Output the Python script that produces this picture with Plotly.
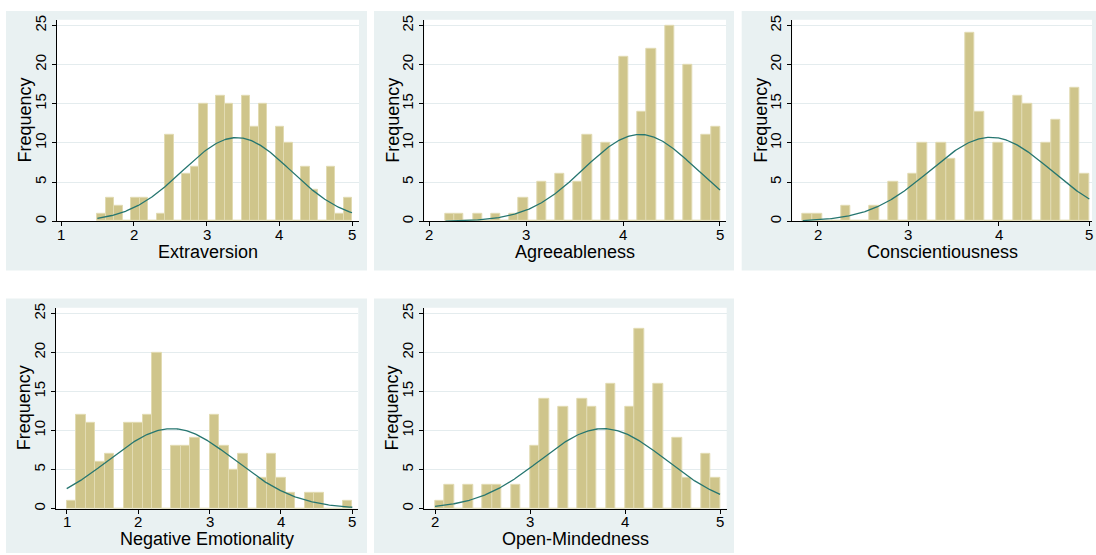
import numpy as np
import plotly.graph_objects as go

# Big Five domain scores: 30-bin histograms with fitted normal curves
traits = ["Extraversion", "Agreeableness", "Conscientiousness",
          "Negative Emotionality", "Open-Mindedness"]

bin_start = [1.5, 2.1667, 1.8333, 1.0, 2.0]
bin_end = [5.0, 5.0, 5.0, 5.0, 5.0]

extraversion_counts = [1, 3, 2, 0, 3, 3, 0, 1, 11, 0, 6, 7, 15, 0, 16,
                       15, 0, 16, 12, 15, 0, 12, 10, 0, 7, 4, 0, 7, 1, 3]
agreeableness_counts = [1, 1, 0, 1, 0, 1, 0, 1, 3, 0, 5, 0, 6, 0, 5,
                        11, 0, 10, 0, 21, 0, 14, 22, 0, 25, 0, 20, 0, 11, 12]
conscientiousness_counts = [1, 1, 0, 0, 2, 0, 0, 2, 0, 5, 0, 6, 10, 0, 10,
                            8, 0, 24, 14, 0, 10, 0, 16, 15, 0, 10, 13, 0, 17, 6]
negemotionality_counts = [1, 12, 11, 6, 7, 0, 11, 11, 12, 20, 0, 8, 8, 9, 0,
                          12, 8, 5, 7, 0, 4, 7, 4, 2, 0, 2, 2, 0, 0, 1]
openmindedness_counts = [1, 3, 0, 3, 0, 3, 3, 0, 3, 0, 8, 14, 0, 13, 0,
                         14, 13, 0, 16, 0, 13, 23, 0, 16, 0, 9, 4, 0, 7, 4]

counts = [extraversion_counts, agreeableness_counts, conscientiousness_counts,
          negemotionality_counts, openmindedness_counts]

# sample mean / sd used for the normal overlay
fit_mean = [3.415, 4.174, 3.91, 2.47, 3.77]
fit_sd = [0.741, 0.578, 0.668, 0.883, 0.662]

x_ticks = [[1, 2, 3, 4, 5], [2, 3, 4, 5], [2, 3, 4, 5], [1, 2, 3, 4, 5], [2, 3, 4, 5]]
y_ticks = [0, 5, 10, 15, 20, 25]

W, H = 1096, 555

# panel frames (px): left, top, right, bottom
frames = [(6, 6, 367, 269), (374, 6, 734, 269), (741.7, 6, 1096, 269),
          (6, 297.3, 367, 555), (374, 297.3, 734, 555)]
# plot areas (px): left, top, right, bottom
areas = [(57, 15, 359, 219), (424.3, 15, 726, 219), (792.3, 15, 1092, 219),
         (56, 306.7, 358.3, 510), (424.3, 306.7, 726.7, 510)]
x_ranges = [(0.945, 5.096), (1.948, 5.062), (1.718, 5.03), (0.85, 5.084), (1.887, 5.07)]
y_range = (0, 25.72)

BAR_FILL = "rgb(207,197,139)"
BAR_EDGE = "rgb(226,219,178)"
CURVE = "rgb(38,118,112)"
PANEL_BG = "rgb(233,241,242)"
GRID = "rgb(228,236,238)"
FONT = "Liberation Sans, Arial, sans-serif"

fig = go.Figure()
shapes = []
annotations = []

for f in frames:
    shapes.append(dict(type="rect", xref="paper", yref="paper",
                       x0=f[0] / W, x1=f[2] / W, y0=1 - f[3] / H, y1=1 - f[1] / H,
                       fillcolor=PANEL_BG, line=dict(width=0), layer="below"))
for a in areas:
    shapes.append(dict(type="rect", xref="paper", yref="paper",
                       x0=a[0] / W, x1=a[2] / W, y0=1 - a[3] / H, y1=1 - a[1] / H,
                       fillcolor="white", line=dict(width=0), layer="below"))

for i, name in enumerate(traits):
    ax = "" if i == 0 else str(i + 1)
    c = np.array(counts[i], dtype=float)
    nb = len(c)
    width = (bin_end[i] - bin_start[i]) / nb
    centers = bin_start[i] + width * (np.arange(nb) + 0.5)
    n_obs = c.sum()

    fig.add_trace(go.Bar(
        x=centers, y=c, width=width,
        marker=dict(color=BAR_FILL, line=dict(color=BAR_EDGE, width=1)),
        xaxis="x" + ax, yaxis="y" + ax, showlegend=False, hoverinfo="x+y"))

    xs = np.linspace(bin_start[i], bin_end[i], 300)
    dens = np.exp(-0.5 * ((xs - fit_mean[i]) / fit_sd[i]) ** 2) / (fit_sd[i] * np.sqrt(2 * np.pi))
    fig.add_trace(go.Scatter(
        x=xs, y=n_obs * width * dens, mode="lines",
        line=dict(color=CURVE, width=1.3),
        xaxis="x" + ax, yaxis="y" + ax, showlegend=False, hoverinfo="skip"))

    a = areas[i]
    xdom = [a[0] / W, a[2] / W]
    ydom = [1 - a[3] / H, 1 - a[1] / H]
    fig.layout["xaxis" + ax] = dict(
        domain=xdom, range=list(x_ranges[i]), anchor="y" + ax,
        tickmode="array", tickvals=x_ticks[i], showticklabels=False,
        showline=True, linecolor="black", linewidth=1,
        ticks="outside", ticklen=4, tickcolor="black", tickwidth=1,
        showgrid=False, zeroline=False)
    fig.layout["yaxis" + ax] = dict(
        domain=ydom, range=list(y_range), anchor="x" + ax,
        tickmode="array", tickvals=y_ticks, ticktext=[str(t) for t in y_ticks],
        tickangle=-90,
        showline=True, linecolor="black", linewidth=1,
        ticks="outside", ticklen=4, tickcolor="black", tickwidth=1,
        showgrid=True, gridcolor=GRID, gridwidth=1, zeroline=False,
        tickfont=dict(family=FONT, size=15, color="black"))

    # x tick labels placed just under the tick marks
    for t in x_ticks[i]:
        annotations.append(dict(
            text=str(t), xref="x" + ax, yref="paper",
            x=t, y=1 - (a[3] + 13) / H,
            xanchor="center", yanchor="middle", showarrow=False,
            font=dict(family=FONT, size=15, color="black")))

    # axis titles
    annotations.append(dict(
        text=name, xref="paper", yref="paper",
        x=(a[0] + a[2]) / 2 / W, y=1 - (a[3] + 31) / H,
        xanchor="center", yanchor="middle", showarrow=False,
        font=dict(family=FONT, size=18, color="black")))
    annotations.append(dict(
        text="Frequency", xref="paper", yref="paper",
        x=(a[0] - 32) / W, y=1 - (a[1] + a[3]) / 2 / H,
        xanchor="center", yanchor="middle", showarrow=False, textangle=-90,
        font=dict(family=FONT, size=18, color="black")))

fig.update_layout(
    width=W, height=H,
    margin=dict(l=0, r=0, t=0, b=0),
    paper_bgcolor="white", plot_bgcolor="rgba(0,0,0,0)",
    bargap=0, barmode="overlay",
    shapes=shapes, annotations=annotations,
    font=dict(family=FONT, color="black"),
)

fig.write_html("out.html")
